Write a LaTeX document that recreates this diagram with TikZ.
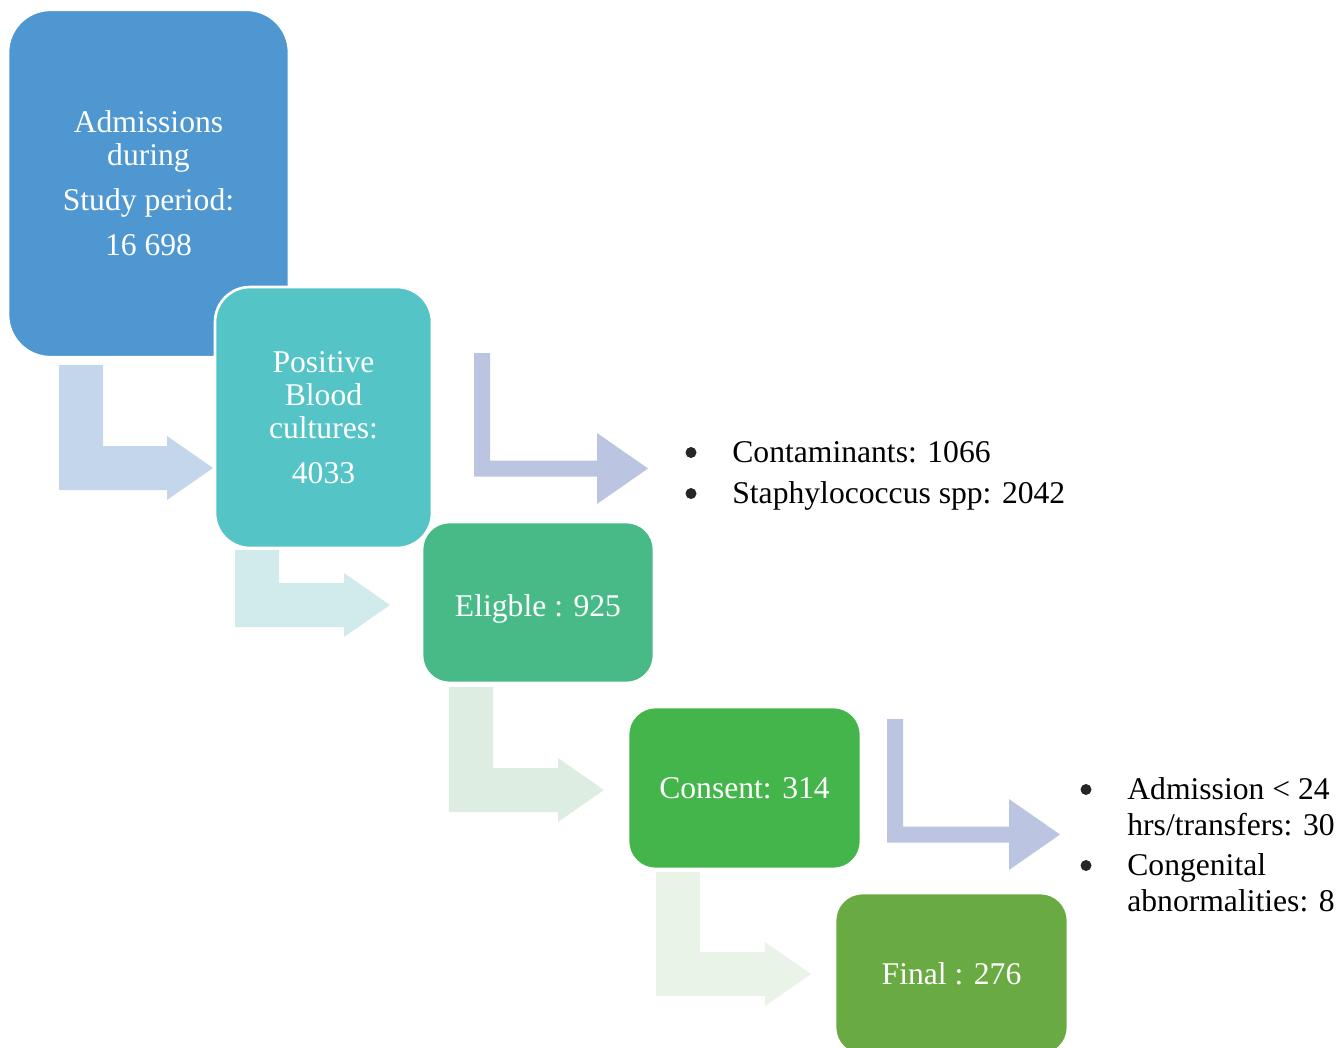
\documentclass[tikz,border=0pt]{standalone}
\usepackage{fontspec}
\setmainfont{Liberation Serif}
\usetikzlibrary{shapes,arrows}

\definecolor{admblue}{HTML}{4F97D0}
\definecolor{posteal}{HTML}{55C4C6}
\definecolor{eliggreen}{HTML}{47BA87}
\definecolor{consgreen}{HTML}{44B54A}
\definecolor{finalgreen}{HTML}{6AAA43}
\definecolor{arrA}{HTML}{C4D6EB}
\definecolor{arrB}{HTML}{D1EBEC}
\definecolor{arrC}{HTML}{DDEDE2}
\definecolor{arrD}{HTML}{E9F3E8}
\definecolor{arrX}{HTML}{BBC5E2}

\begin{document}
\begin{tikzpicture}[x=0.02cm,y=-0.02cm,
  stage/.style={draw=white, line width=1.5pt, text=white, align=center,
    inner sep=0pt, font=\fontsize{18}{18.7}\selectfont},
  item/.style={anchor=base west, inner sep=0pt, font=\fontsize{18}{18.7}\selectfont},
  dot/.style={circle, fill=black!85, inner sep=0pt, minimum size=0.22cm}]
\clip (0,0) rectangle (1343,1048);
% bent arrows (x, top, centre line, tip, bar width, head length, head half height)
\foreach \a/\t/\c/\e/\w/\l/\h/\col in {59/365/468/213/44/46/32/arrA,
    235/550/605/390/44/46/32/arrB, 449/687/790/604/44/46/32/arrC,
    656/872/974/811/44/46/32/arrD, 474/353/468.5/648/16/51/35.5/arrX,
    887/719/834.5/1060/16/51/35.5/arrX} {
  \fill[\col] (\a,\t) -- (\a+\w,\t) -- (\a+\w,\c-\w/2) -- (\e-\l,\c-\w/2)
    -- (\e-\l,\c-\h) -- (\e,\c) -- (\e-\l,\c+\h) -- (\e-\l,\c+\w/2)
    -- (\a,\c+\w/2) -- cycle;
}
% stages
\node[stage, fill=admblue, rounded corners=0.85cm, minimum width=5.62cm,
  minimum height=6.95cm] (adm) at (148.5,183.5)
  {Admissions\\during\\[7pt]Study period:\\[7pt]16 698};
\node[stage, fill=posteal, rounded corners=0.7cm, minimum width=4.34cm,
  minimum height=5.22cm] (pos) at (323.5,417.5)
  {Positive\\Blood\\cultures:\\[7pt]4033};
\node[stage, fill=eliggreen, rounded corners=0.55cm, minimum width=4.64cm,
  minimum height=3.22cm, text height=15.4pt, text depth=0pt] (elig) at (538,602.5)
  {Eligble : 925};
\node[stage, fill=consgreen, rounded corners=0.55cm, minimum width=4.66cm,
  minimum height=3.24cm] (cons) at (744.5,788) {Consent: 314};
\node[stage, fill=finalgreen, rounded corners=0.55cm, minimum width=4.66cm,
  minimum height=3.24cm] (final) at (951.5,974) {Final : 276};
% exclusions
\foreach \y/\t in {462/Contaminants: 1066, 503/Staphylococcus spp: 2042} {
  \node[dot] (bul\y) at (691,\y-9.5) {};
  \node[item] (exc\y) at (732,\y) {\t};
}
\foreach \y in {799,875}
  \node[dot] (bul\y) at (1086,\y-9.5) {};
\foreach \y/\t in {799/Admission < 24, 835/{hrs/transfers: 30},
    875/Congenital, 911/abnormalities: 8}
  \node[item] (exc\y) at (1127,\y) {\t};
\end{tikzpicture}
\end{document}
